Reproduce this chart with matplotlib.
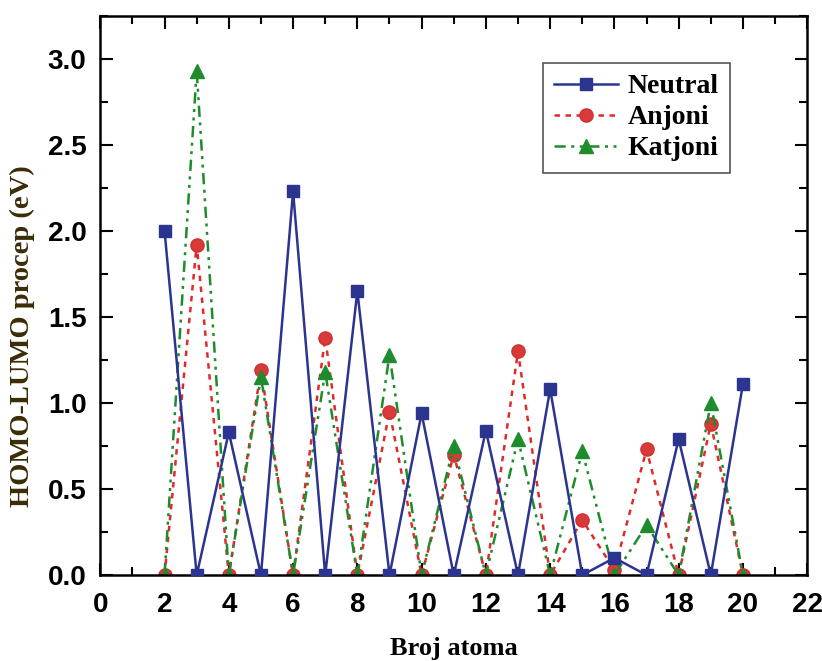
import matplotlib.pyplot as plt
from matplotlib.ticker import MultipleLocator

atomi = list(range(2, 21))
neutral = [2.00, 0.0, 0.83, 0.0, 2.23, 0.0, 1.65, 0.0, 0.94, 0.0, 0.84, 0.0, 1.08, 0.0, 0.10, 0.0, 0.79, 0.0, 1.11]
anjoni = [0.0, 1.92, 0.0, 1.19, 0.0, 1.38, 0.0, 0.95, 0.0, 0.70, 0.0, 1.30, 0.0, 0.32, 0.03, 0.73, 0.0, 0.88, 0.0]
katjoni = [0.0, 2.93, 0.0, 1.15, 0.0, 1.18, 0.0, 1.28, 0.0, 0.75, 0.0, 0.79, 0.0, 0.72, 0.0, 0.29, 0.0, 1.00, 0.0]

fig = plt.figure(figsize=(8.22, 6.61), dpi=100)
ax = fig.add_axes([0.122, 0.130, 0.860, 0.846])

ax.plot(atomi, neutral, color='#2b3590', lw=1.8, ls='-', marker='s', ms=8,
        label='Neutral', zorder=3)
ax.plot(atomi, anjoni, color='#e02a2a', lw=1.8, ls=(0, (2.2, 2.2)), marker='o', ms=9.5,
        markeredgecolor='#d03030', markerfacecolor='#d83a3a', label='Anjoni', zorder=2)
ax.plot(atomi, katjoni, color='#1e8c2c', lw=1.8, ls=(0, (4.5, 2.2, 1.2, 2.2, 1.2, 2.2)), marker='^', ms=10,
        label='Katjoni', zorder=2)

ax.set_xlim(0, 22)
ax.set_ylim(0, 3.25)
ax.xaxis.set_major_locator(MultipleLocator(2))
ax.xaxis.set_minor_locator(MultipleLocator(1))
ax.yaxis.set_major_locator(MultipleLocator(0.5))
ax.yaxis.set_minor_locator(MultipleLocator(0.25))
ax.yaxis.set_major_formatter(plt.FormatStrFormatter('%.1f'))

ax.tick_params(which='both', direction='in', top=True, right=True, width=1.5)
ax.tick_params(which='major', length=9, labelsize=20)
ax.tick_params(axis='x', which='major', pad=12)
ax.tick_params(axis='y', which='major', pad=10)
ax.tick_params(which='minor', length=6)
for lab in ax.get_xticklabels() + ax.get_yticklabels():
    lab.set_fontfamily('Liberation Sans')
    lab.set_fontweight('bold')
for s in ax.spines.values():
    s.set_linewidth(1.8)

ax.set_xlabel('Broj atoma', fontfamily='Liberation Serif', fontweight='bold', fontsize=19)
ax.xaxis.set_label_coords(0.5, -0.11)
ax.set_ylabel('HOMO-LUMO procep (eV)', fontfamily='Liberation Serif', fontweight='bold', fontsize=20.5,
              color='#3a2c05')
ax.yaxis.set_label_coords(-0.093, 0.4275)

leg = ax.legend(loc='upper right', bbox_to_anchor=(0.891, 0.916), borderaxespad=0, fancybox=False, framealpha=1,
                edgecolor='#555555', prop={'family': 'Liberation Serif', 'weight': 'bold', 'size': 20},
                handlelength=2.3, borderpad=0.4, labelspacing=0.2, handletextpad=0.35)
leg.get_frame().set_linewidth(1.2)

fig.savefig('out.png', dpi=100)
